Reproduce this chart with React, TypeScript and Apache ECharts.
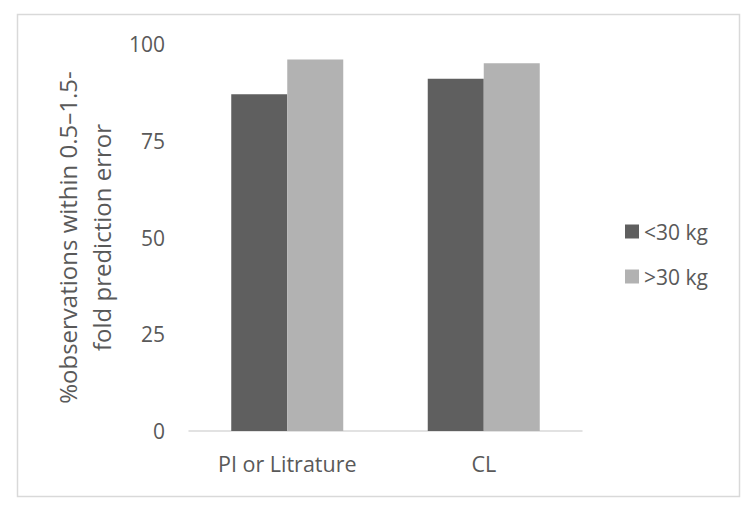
import React, { useEffect, useRef } from "react";
import * as echarts from "echarts";

const categories = ["PI or Litrature", "CL"];
const seriesNames = ["<30 kg", ">30 kg"];
const under30 = [87, 91];
const over30 = [96, 95];
const yTicks = [0, 25, 50, 75, 100];
const yAxisTitle = "%observations within 0.5–1.5-\nfold prediction error";

const FONT = "Open Sans";
const TEXT = "#595959";

export default function App() {
  const ref = useRef<HTMLDivElement>(null);
  useEffect(() => {
    if (!ref.current) return;
    const chart = echarts.init(ref.current, undefined, { renderer: "svg" });
    chart.setOption({
      animation: false,
      backgroundColor: "#ffffff",
      textStyle: { fontFamily: FONT, color: TEXT },
      graphic: [
        {
          type: "rect",
          shape: { x: 17.5, y: 14.5, width: 722, height: 482 },
          style: { fill: "none", stroke: "#d9d9d9", lineWidth: 1.5 },
          silent: true,
        },
      ],
      grid: { left: 189, right: 174, top: 44, bottom: 83 },
      legend: {
        orient: "vertical",
        left: 620,
        top: 216,
        itemWidth: 14,
        itemHeight: 14,
        itemGap: 24,
        icon: "rect",
        textStyle: { fontFamily: FONT, fontSize: 21, color: TEXT },
        data: seriesNames,
      },
      xAxis: {
        type: "category",
        data: categories,
        axisLine: { lineStyle: { color: "#d9d9d9", width: 1.5 } },
        axisTick: { show: false },
        axisLabel: { fontFamily: FONT, fontSize: 21.5, color: TEXT, margin: 21 },
      },
      yAxis: {
        type: "value",
        min: yTicks[0],
        max: yTicks[yTicks.length - 1],
        interval: 25,
        axisLine: { show: false },
        axisTick: { show: false },
        splitLine: { show: false },
        axisLabel: { fontFamily: FONT, fontSize: 21, color: TEXT, margin: 24 },
        name: yAxisTitle,
        nameLocation: "middle",
        nameGap: 69,
        nameRotate: 90,
        nameTextStyle: { fontFamily: FONT, fontSize: 24, color: TEXT, lineHeight: 34 },
      },
      series: [
        {
          name: seriesNames[0],
          type: "bar",
          data: under30,
          itemStyle: { color: "#5f5f5f" },
          barGap: "0%",
          barCategoryGap: "43%",
        },
        {
          name: seriesNames[1],
          type: "bar",
          data: over30,
          itemStyle: { color: "#b2b2b2" },
          barGap: "0%",
          barCategoryGap: "43%",
        },
      ],
    });
    return () => chart.dispose();
  }, []);
  return (
    <div
      ref={ref}
      style={{ position: "fixed", left: 0, top: 0, width: 756, height: 514 }}
    />
  );
}
